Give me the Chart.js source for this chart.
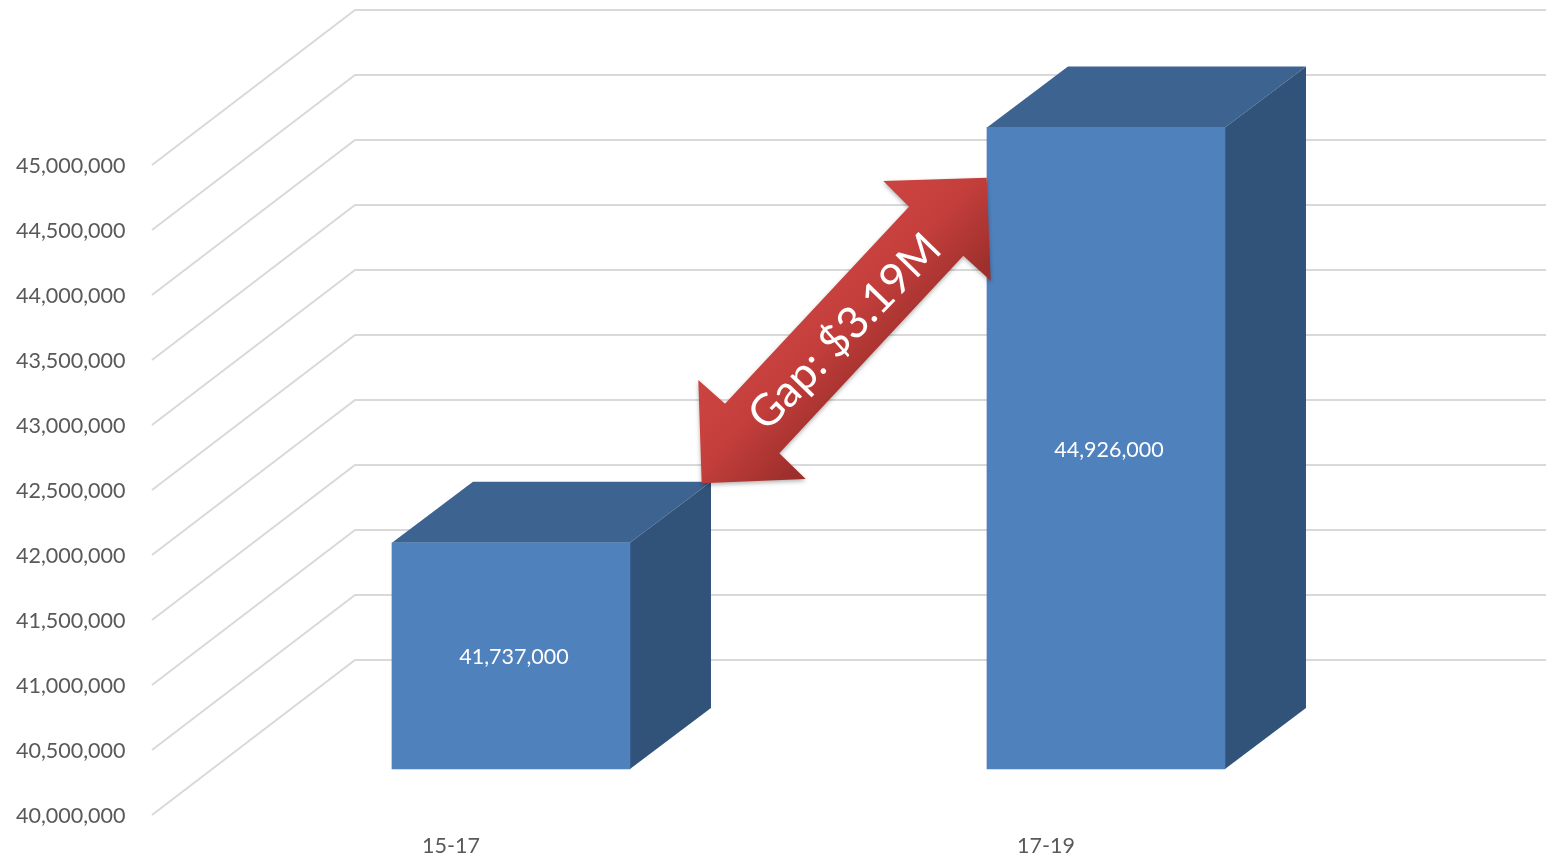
<!DOCTYPE html>
<html>
<head>
<meta charset="utf-8">
<style>html,body{margin:0;padding:0;background:#fff}canvas{display:block}</style>
<script src="https://cdn.jsdelivr.net/npm/chart.js@4/dist/chart.umd.min.js"></script>
</head>
<body>
<canvas id="c" width="1546" height="856" style="width:1546px;height:856px"></canvas>
<script>
const categories = ['15-17', '17-19'];
const seriesValues = [41737000, 44926000];
const tickValues = [40000000, 40500000, 41000000, 41500000, 42000000, 42500000, 43000000, 43500000, 44000000, 44500000, 45000000];
const annotationText = 'Gap: $3.19M';

const FONT = 'Lato, "Open Sans", sans-serif';
const WALL = {dx: 203, dy: -155};
const DEPTH = {dx: 81, dy: -61};
const fmt = v => Number(v).toLocaleString('en-US');

const wallPlugin = {
  id: 'wall',
  beforeDatasetsDraw(chart) {
    const {ctx, scales} = chart;
    ctx.save();
    ctx.strokeStyle = '#D9D9D9';
    ctx.lineWidth = 2;
    ctx.lineJoin = 'miter';
    scales.y.ticks.forEach(t => {
      const y = scales.y.getPixelForValue(t.value);
      const x0 = scales.y.right - 1.5;
      ctx.beginPath();
      ctx.moveTo(x0, y);
      ctx.lineTo(x0 + WALL.dx, y + WALL.dy);
      ctx.lineTo(1546, y + WALL.dy);
      ctx.stroke();
    });
    ctx.restore();
  }
};

const box3dPlugin = {
  id: 'box3d',
  beforeDatasetsDraw(chart) {
    const {ctx} = chart;
    const meta = chart.getDatasetMeta(0);
    ctx.save();
    meta.data.forEach(bar => {
      const l = bar.x - bar.width / 2, r = bar.x + bar.width / 2, t = bar.y, b = bar.base;
      ctx.fillStyle = '#3D6390';
      ctx.beginPath();
      ctx.moveTo(l, t);
      ctx.lineTo(l + DEPTH.dx, t + DEPTH.dy);
      ctx.lineTo(r + DEPTH.dx, t + DEPTH.dy);
      ctx.lineTo(r, t);
      ctx.closePath();
      ctx.fill();
      ctx.fillStyle = '#31537A';
      ctx.beginPath();
      ctx.moveTo(r, t);
      ctx.lineTo(r + DEPTH.dx, t + DEPTH.dy);
      ctx.lineTo(r + DEPTH.dx, b + DEPTH.dy);
      ctx.lineTo(r, b);
      ctx.closePath();
      ctx.fill();
    });
    ctx.restore();
  }
};

const labelPlugin = {
  id: 'barLabels',
  afterDatasetsDraw(chart) {
    const {ctx} = chart;
    const meta = chart.getDatasetMeta(0);
    ctx.save();
    ctx.fillStyle = '#FFFFFF';
    ctx.font = '21.5px ' + FONT;
    ctx.textAlign = 'center';
    ctx.textBaseline = 'middle';
    meta.data.forEach((bar, i) => {
      ctx.fillText(fmt(seriesValues[i]), bar.x + 3, (bar.y + bar.base) / 2 + 1.5);
    });
    ctx.restore();
  }
};

const arrowPlugin = {
  id: 'gapArrow',
  afterDraw(chart) {
    const {ctx} = chart;
    const pts = [[986.7,177.7],[990.7,280.7],[963.3,255.7],[779.3,453.3],[805.7,479],[701.7,483.3],[698.3,380],[725,403.7],[909,206.7],[883.3,181]];
    ctx.save();
    const g = ctx.createLinearGradient(800, 290, 890, 375);
    g.addColorStop(0, '#CB4340');
    g.addColorStop(0.4, '#C43F3C');
    g.addColorStop(1, '#9C2E2B');
    ctx.beginPath();
    pts.forEach((p, i) => i ? ctx.lineTo(p[0], p[1]) : ctx.moveTo(p[0], p[1]));
    ctx.closePath();
    ctx.shadowColor = 'rgba(0,0,0,0.3)';
    ctx.shadowBlur = 4;
    ctx.shadowOffsetY = 2;
    ctx.fillStyle = g;
    ctx.fill();
    ctx.restore();
    ctx.save();
    ctx.translate(845, 332);
    ctx.rotate(-45.7 * Math.PI / 180);
    ctx.fillStyle = '#FFFFFF';
    ctx.font = '44px ' + FONT;
    ctx.textAlign = 'center';
    ctx.textBaseline = 'middle';
    ctx.fillText(annotationText, 0, 0);
    ctx.restore();
  }
};

new Chart(document.getElementById('c'), {
  type: 'bar',
  data: {
    labels: categories,
    datasets: [{
      data: categories.map((c, i) => ({x: i, y: seriesValues[i]})),
      base: tickValues[0],
      xAxisID: 'x2',
      yAxisID: 'y2',
      backgroundColor: '#4F81BD',
      borderWidth: 0,
      barThickness: 238
    }]
  },
  options: {
    responsive: false,
    animation: false,
    devicePixelRatio: 1,
    layout: {padding: {top: 10, right: 202.5, left: 0, bottom: 0}},
    plugins: {legend: {display: false}, tooltip: {enabled: false}, title: {display: false}},
    scales: {
      x: {
        type: 'category',
        offset: true,
        grid: {display: false},
        border: {display: false},
        afterFit(s) { s.height = 41; },
        ticks: {color: '#595959', font: {family: FONT, size: 21.5}, padding: 10, maxRotation: 0}
      },
      y: {
        type: 'linear',
        bounds: 'data',
        offset: false,
        min: 40000000,
        max: 46192308,
        grid: {display: false},
        border: {display: false},
        afterFit(s) { s.width = 153.5; s.paddingTop = 0; s.paddingBottom = 0; },
        afterBuildTicks(s) { s.ticks = tickValues.map(v => ({value: v})); },
        ticks: {color: '#595959', font: {family: FONT, size: 21.5}, padding: 20, labelOffset: 1.5, autoSkip: false, callback: v => fmt(v)}
      },
      x2: {type: 'linear', bounds: 'data', offset: false, display: false, min: -0.6008, max: 1.3992},
      y2: {type: 'linear', bounds: 'data', offset: false, display: false, min: 39646833, max: 45827255}
    }
  },
  plugins: [wallPlugin, box3dPlugin, labelPlugin, arrowPlugin]
});
</script>
</body>
</html>
